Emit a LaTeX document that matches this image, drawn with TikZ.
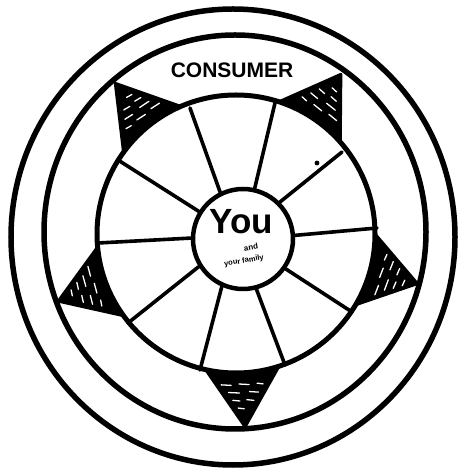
\documentclass[tikz,border=0pt]{standalone}
\usepackage{fontspec}
\newfontfamily\labfont{Liberation Sans}
\begin{document}
\begin{tikzpicture}[x=1pt,y=1pt,
  ring/.style={draw=black, line width=5.5pt},
  wheelline/.style={draw=black, line width=5pt},
  spoke/.style={draw=black, line width=3.6pt, line cap=round},
  pointfill/.style={fill=black, draw=black, line width=3pt, line join=round},
  streak/.style={draw=white, line width=1.3pt, line cap=round},
  hubstyle/.style={circle, draw=black, line width=4.5pt, minimum size=100pt, inner sep=0pt, fill=white}]
\useasboundingbox (0,0) rectangle (462,468);
% outer rings
\draw[ring] (233,231) ellipse [x radius=222, y radius=228];
\draw[ring] (235,236) ellipse [x radius=191, y radius=197];
% star points
\foreach \t/\ra in {128.7/193, 56.7/191, -15.3/188, -87.3/193, 200.7/190}{
  \begin{scope}[shift={(236,234)}]
    \path[pointfill] (\t:\ra) -- (\t+15.3:139) arc[start angle=\t+15.3, end angle=\t-15.3, radius=139] -- cycle;
    \clip (\t:\ra) -- (\t+15.3:139) arc[start angle=\t+15.3, end angle=\t-15.3, radius=139] -- cycle;
    \begin{scope}[rotate=\t]
      \draw[streak] (150,-22) -- (151,-12) (150,-4) -- (151,6) (150,14) -- (151,20);
      \draw[streak] (158,-15) -- (159,-4) (158,6) -- (159,15);
      \draw[streak] (166,-11) -- (167,-4) (166,3) -- (167,10);
      \draw[streak] (174,-6) -- (175,0);
    \end{scope}
  \end{scope}
}
% wheel
\draw[wheelline] (236,234) circle [radius=139];
% hub
\node[hubstyle] (hub) at (243,229) {};
% spoke ends
\coordinate (sa) at (190,360);
\coordinate (sb) at (275,365);
\coordinate (sc) at (342,316);
\coordinate (sd) at (377,240);
\coordinate (se) at (352,156);
\coordinate (sf) at (285,103);
\coordinate (sg) at (200,98);
\coordinate (sh) at (128,145);
\coordinate (si) at (98,225);
\coordinate (sj) at (118,308);
\draw[spoke] (hub.116) -- (sa);
\draw[spoke] (hub.77) -- (sb);
\draw[spoke] (hub.45) -- (sc);
\draw[spoke] (hub.4.6) -- (sd);
\draw[spoke] (hub.-35) -- (se);
\draw[spoke] (hub.-75) -- (sf);
\draw[spoke] (hub.-114.5) -- (sg);
\draw[spoke] (hub.-148) -- (sh);
\draw[spoke] (hub.179) -- (si);
\draw[spoke] (hub.148) -- (sj);
\fill[black] (317,305) circle [radius=2.4];
% texts
\node[font=\labfont\bfseries\fontsize{21}{21}\selectfont] (consumer) at (232,398) {CONSUMER};
\node[font=\labfont\bfseries\fontsize{35}{35}\selectfont] (you) at (241,246) {You};
\node[font=\labfont\bfseries\fontsize{8}{8}\selectfont, rotate=10, inner sep=0pt] (and) at (251,221) {and};
\node[font=\labfont\bfseries\fontsize{7.5}{7.5}\selectfont, rotate=10, inner sep=0pt] (fam) at (244,207) {your family};
\end{tikzpicture}
\end{document}
